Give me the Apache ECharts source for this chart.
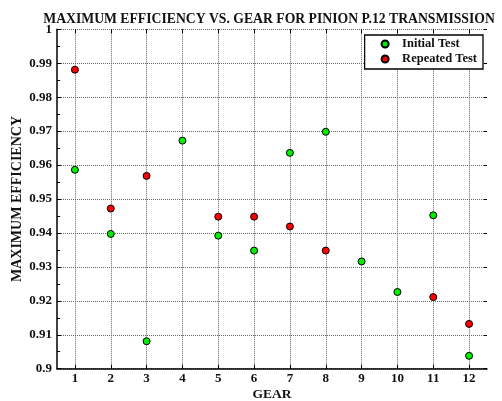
<!DOCTYPE html>
<html>
<head>
<meta charset="utf-8">
<script src="https://cdn.jsdelivr.net/npm/echarts@6/dist/echarts.min.js"></script>
<style>html,body{margin:0;padding:0;background:#fff}#c{width:502px;height:401px}</style>
</head>
<body>
<div id="c"></div>
<script>
const gears = ['1','2','3','4','5','6','7','8','9','10','11','12'];
const initialTest = [0.9586, 0.9397, 0.9081, 0.9672, 0.9392, 0.9348, 0.9636, 0.9698, 0.9316, 0.9226, 0.9452, 0.9038];
const repeatedTest = [0.9881, 0.9472, 0.9568, null, 0.9448, 0.9448, 0.9419, 0.9348, null, null, 0.9211, 0.9132];
const titleText = 'MAXIMUM EFFICIENCY VS. GEAR FOR PINION P.12 TRANSMISSION';
const yName = 'MAXIMUM EFFICIENCY';
const xName = 'GEAR';

const FONT = '"Liberation Serif", "Times New Roman", serif';
const gridLine = { show: true, lineStyle: { color: '#666', type: [1, 1], width: 1 } };

const chart = echarts.init(document.getElementById('c'), null, { renderer: 'canvas' });
chart.setOption({
  animation: false,
  backgroundColor: '#fff',
  title: {
    text: titleText, left: 264, textAlign: 'center', top: 7,
    textStyle: { fontFamily: FONT, fontWeight: 'bold', fontSize: 13.7, color: '#111' }
  },
  legend: {
    orient: 'vertical', right: 19, top: 35,
    padding: [2, 6, 3, 16],
    itemGap: 1, itemWidth: 24, itemHeight: 7,
    borderColor: '#000', borderWidth: 1.3, borderRadius: 0, backgroundColor: '#fff',
    textStyle: { fontFamily: FONT, fontWeight: 'bold', fontSize: 12.5, color: '#111', lineHeight: 14 },
    data: ['Initial Test', 'Repeated Test']
  },
  grid: { left: 57, right: 15, top: 29.3, bottom: 32.3, containLabel: false, outerBoundsMode: 'none' },
  xAxis: [{
    type: 'category', data: gears, position: 'bottom', boundaryGap: true,
    name: xName, nameLocation: 'middle', nameGap: 19, nameMoveOverlap: false,
    nameTextStyle: { fontFamily: FONT, fontWeight: 'bold', fontSize: 13.5, color: '#111' },
    axisLine: { show: true, lineStyle: { color: '#000', width: 1.5 } },
    axisTick: { show: true, inside: true, alignWithLabel: true, length: 4, lineStyle: { color: '#000' } },
    axisLabel: { fontFamily: FONT, fontWeight: 'bold', fontSize: 13, color: '#111', margin: 3 },
    splitLine: Object.assign({ alignWithLabel: true }, gridLine)
  }, {
    type: 'category', data: gears, position: 'top', boundaryGap: true,
    axisLine: { show: false },
    axisTick: { show: true, inside: true, alignWithLabel: true, length: 4, lineStyle: { color: '#000' } },
    axisLabel: { show: false }, splitLine: { show: false }
  }],
  yAxis: [{
    type: 'value', min: 0.9, max: 1, interval: 0.01, position: 'left',
    name: yName, nameLocation: 'middle', nameGap: 33, nameMoveOverlap: false,
    nameTextStyle: { fontFamily: FONT, fontWeight: 'bold', fontSize: 14, color: '#111' },
    axisLine: { show: true, lineStyle: { color: '#000', width: 1.5 } },
    axisTick: { show: true, inside: true, length: 4, lineStyle: { color: '#000' } },
    minorTick: { show: true, splitNumber: 2, length: 3, lineStyle: { color: '#000' } },
    axisLabel: { fontFamily: FONT, fontWeight: 'bold', fontSize: 13, color: '#111', margin: 5 },
    splitLine: gridLine
  }, {
    type: 'value', min: 0.9, max: 1, interval: 0.01, position: 'right',
    axisLine: { show: false },
    axisTick: { show: true, inside: true, length: 3, lineStyle: { color: '#000' } },
    axisLabel: { show: false }, splitLine: { show: false }
  }],
  series: [{
    name: 'Initial Test', type: 'scatter', data: initialTest,
    symbol: 'circle', symbolSize: 7,
    itemStyle: { color: '#00ee00', borderColor: '#000', borderWidth: 1, opacity: 1 }
  }, {
    name: 'Repeated Test', type: 'scatter', data: repeatedTest,
    symbol: 'circle', symbolSize: 7,
    itemStyle: { color: '#ff0000', borderColor: '#000', borderWidth: 1, opacity: 1 }
  }]
});
</script>
</body>
</html>
